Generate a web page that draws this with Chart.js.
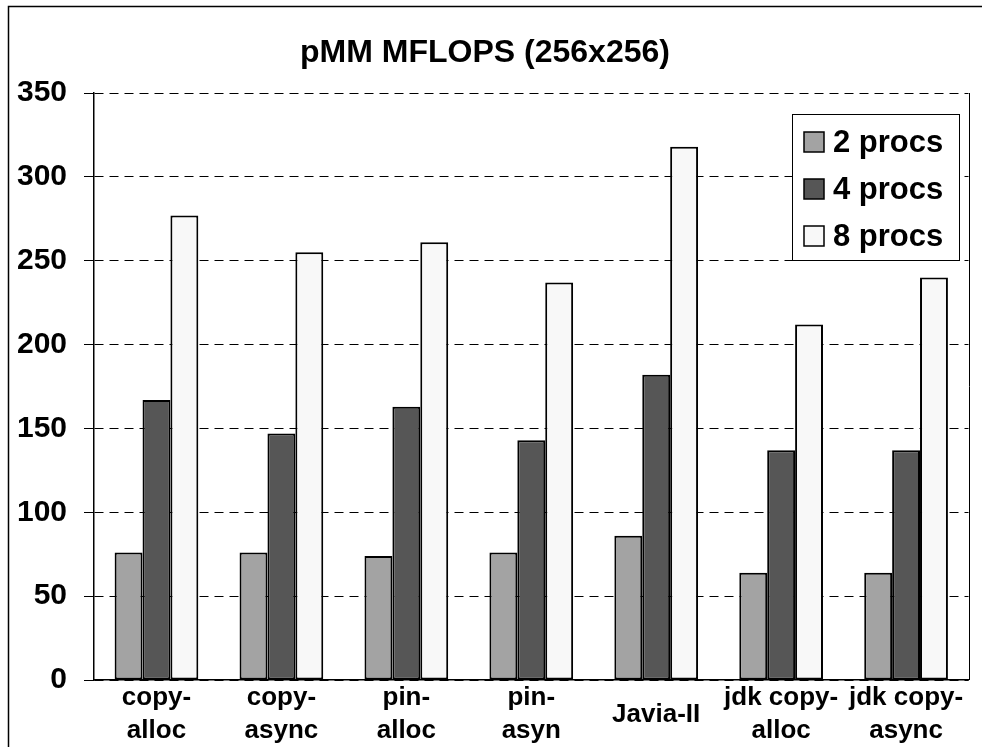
<!DOCTYPE html>
<html>
<head>
<meta charset="utf-8">
<title>pMM MFLOPS (256x256)</title>
<script src="https://cdn.jsdelivr.net/npm/chart.js@4.4.1/dist/chart.umd.min.js"></script>
<style>
  html, body { margin: 0; padding: 0; background: #fff; }
  #wrap { width: 982px; height: 747px; position: relative; }
</style>
</head>
<body>
<div id="wrap"><canvas id="chart" width="982" height="747"></canvas></div>
<script>
// data
const categories = [
  ['copy-', 'alloc'],
  ['copy-', 'async'],
  ['pin-', 'alloc'],
  ['pin-', 'asyn'],
  ['Javia-II'],
  ['jdk copy-', 'alloc'],
  ['jdk copy-', 'async'],
];
const procs2 = [76, 76, 74, 76, 86, 64, 64];
const procs4 = [167, 147, 163, 143, 182, 137, 137];
const procs8 = [277, 255, 261, 237, 318, 212, 240];
const yTicks = [0, 50, 100, 150, 200, 250, 300, 350];

const FONT = 'Liberation Sans, Arial, sans-serif';

// outer frame + right border of the plot
const framePlugin = {
  id: 'frame',
  afterDraw(chart) {
    const ctx = chart.ctx;
    const a = chart.chartArea;
    ctx.save();
    ctx.strokeStyle = '#000';
    ctx.lineWidth = 1.5;
    ctx.beginPath();
    ctx.moveTo(8.5, 747);
    ctx.lineTo(8.5, 6.5);
    ctx.lineTo(982, 6.5);
    ctx.stroke();
    ctx.lineWidth = 1;
    ctx.beginPath();
    ctx.moveTo(Math.round(a.right) + 0.5, a.top);
    ctx.lineTo(Math.round(a.right) + 0.5, a.bottom);
    ctx.stroke();
    ctx.restore();
  }
};

// boxed legend inside the plot, top right
const boxLegend = {
  id: 'boxLegend',
  afterDraw(chart) {
    const ctx = chart.ctx;
    const box = { x: 792, y: 114, w: 167, h: 146 };
    ctx.save();
    ctx.fillStyle = '#fff';
    ctx.fillRect(box.x, box.y, box.w, box.h);
    ctx.strokeStyle = '#000';
    ctx.lineWidth = 1;
    ctx.strokeRect(box.x + 0.5, box.y + 0.5, box.w, box.h);
    ctx.font = 'bold 31px ' + FONT;
    ctx.textBaseline = 'middle';
    chart.data.datasets.forEach((ds, i) => {
      const cy = box.y + 28 + i * 47;
      ctx.fillStyle = ds.backgroundColor;
      ctx.fillRect(804, cy - 10, 20, 20);
      ctx.strokeStyle = '#000';
      ctx.lineWidth = 1.5;
      ctx.strokeRect(804, cy - 10, 20, 20);
      ctx.fillStyle = '#000';
      ctx.fillText(ds.label, 833, cy + 1);
    });
    ctx.restore();
  }
};

const barStyle = { borderColor: '#000', borderWidth: 2, borderSkipped: false };

new Chart(document.getElementById('chart'), {
  type: 'bar',
  data: {
    labels: categories,
    datasets: [
      { label: '2 procs', data: procs2, backgroundColor: '#a3a3a3', ...barStyle },
      { label: '4 procs', data: procs4, backgroundColor: '#565656', ...barStyle },
      { label: '8 procs', data: procs8, backgroundColor: '#f8f8f8', ...barStyle },
    ],
  },
  options: {
    responsive: false,
    animation: false,
    layout: { padding: { left: 0, right: 12, top: 0, bottom: 0 } },
    datasets: { bar: { categoryPercentage: 0.67, barPercentage: 1.0 } },
    plugins: {
      legend: { display: false },
      tooltip: { enabled: false },
      title: {
        display: true,
        text: 'pMM MFLOPS (256x256)',
        color: '#000',
        font: { family: FONT, size: 32, weight: 'bold', lineHeight: 1.2 },
        padding: { top: 34, bottom: 20.6 },
      },
    },
    scales: {
      x: {
        afterFit(scale) { scale.height = 67; },
        grid: { display: false, drawTicks: false },
        border: { color: '#000', width: 1.5 },
        ticks: {
          color: '#000',
          padding: 18,
          maxRotation: 0,
          autoSkip: false,
          crossAlign: 'center',
          font: { family: FONT, size: 26, weight: 'bold', lineHeight: 1.27 },
        },
      },
      y: {
        min: 0,
        max: 350,
        afterFit(scale) { scale.width = 94; },
        afterBuildTicks(scale) { scale.ticks = yTicks.map(v => ({ value: v })); },
        grid: {
          color: '#000',
          lineWidth: 1,
          tickLength: 10,
          tickColor: '#000',
        },
        border: { color: '#000', width: 1.5, dash: [9, 6] },
        ticks: {
          color: '#000',
          padding: 17,
          font: { family: FONT, size: 30, weight: 'bold' },
        },
      },
    },
  },
  plugins: [framePlugin, boxLegend],
});
</script>
</body>
</html>
